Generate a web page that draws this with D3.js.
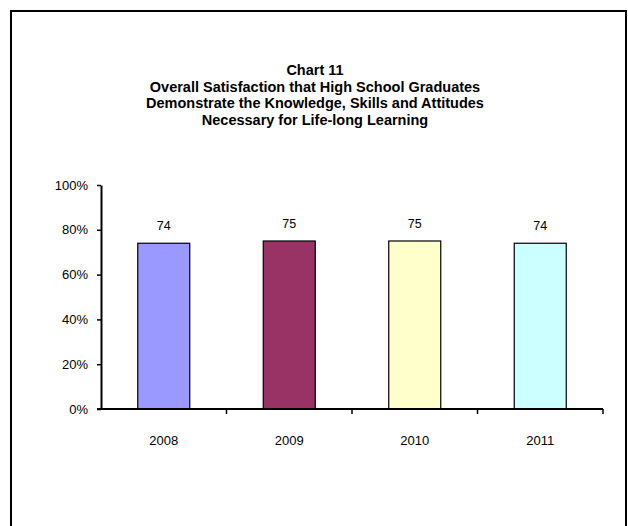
<!DOCTYPE html>
<html><head><meta charset="utf-8">
<script src="https://cdn.jsdelivr.net/npm/d3@7"></script>
<style>body{margin:0;background:#fff;} svg{display:block;}</style>
</head><body>
<svg id="chart" width="628" height="526"></svg>
<script>
(function(){
const titleLines = ["Chart 11","Overall Satisfaction that High School Graduates","Demonstrate the Knowledge, Skills and Attitudes","Necessary for Life-long Learning"];
const categories = ["2008","2009","2010","2011"];
const values = [74, 75, 75, 74];
const colors = ["#9999FF","#993366","#FFFFCC","#CCFFFF"];
const yTicks = [0,20,40,60,80,100];

const svg = d3.select("#chart");
svg.append("rect").attr("x",11).attr("y",11).attr("width",615).attr("height",540)
  .attr("fill","#fff").attr("stroke","#000").attr("stroke-width",2);

const font = "'Liberation Sans', Arial, sans-serif";
const title = svg.append("text").attr("text-anchor","middle").attr("font-family",font)
  .attr("font-weight","bold").attr("font-size",14.5).attr("fill","#000");
titleLines.forEach((t,i)=>{
  title.append("tspan").attr("x",315).attr("y",75+i*16.7).text(t);
});

const pLeft=101, pRight=603, pTop=185, pBottom=409;
const x = d3.scaleBand().domain(categories).range([pLeft,pRight]).paddingInner(0).paddingOuter(0);
const y = d3.scaleLinear().domain([0,100]).range([pBottom,pTop]);
const bw = 52;

svg.selectAll("rect.bar").data(values).enter().append("rect").attr("class","bar")
  .attr("x",(d,i)=>x(categories[i])+x.bandwidth()/2-bw/2)
  .attr("y",d=>y(d)).attr("width",bw).attr("height",d=>pBottom-y(d))
  .attr("fill",(d,i)=>colors[i]).attr("stroke","#000").attr("stroke-width",1.2);

svg.selectAll("text.val").data(values).enter().append("text").attr("class","val")
  .attr("x",(d,i)=>x(categories[i])+x.bandwidth()/2).attr("y",d=>y(d)-13)
  .attr("text-anchor","middle").attr("font-family",font).attr("font-size",12.5).text(d=>d);

const yAxis = d3.axisLeft(y).tickValues(yTicks).tickFormat(d=>d+"%").tickSize(4).tickSizeOuter(0).tickPadding(9);
const gy = svg.append("g").attr("transform",`translate(${pLeft},0)`).call(yAxis);
gy.select(".domain").attr("stroke","#000").attr("stroke-width",2);
gy.selectAll(".tick line").attr("stroke","#000").attr("stroke-width",1.5);
gy.selectAll(".tick text").attr("font-family",font).attr("font-size",13).attr("fill","#000");

const gx = svg.append("g").attr("transform",`translate(0,${pBottom})`);
gx.append("line").attr("x1",pLeft-4).attr("x2",pRight).attr("y1",0).attr("y2",0)
  .attr("stroke","#000").attr("stroke-width",2);
const bounds = categories.slice(1).map(c=>x(c)).concat([pRight]);
gx.selectAll("line.tk").data(bounds).enter().append("line").attr("class","tk")
  .attr("x1",d=>d).attr("x2",d=>d).attr("y1",0).attr("y2",5).attr("stroke","#000").attr("stroke-width",1.5);
gx.selectAll("text").data(categories).enter().append("text")
  .attr("x",d=>x(d)+x.bandwidth()/2).attr("y",36).attr("text-anchor","middle")
  .attr("font-family",font).attr("font-size",13).text(d=>d);
})();
</script>
</body></html>
